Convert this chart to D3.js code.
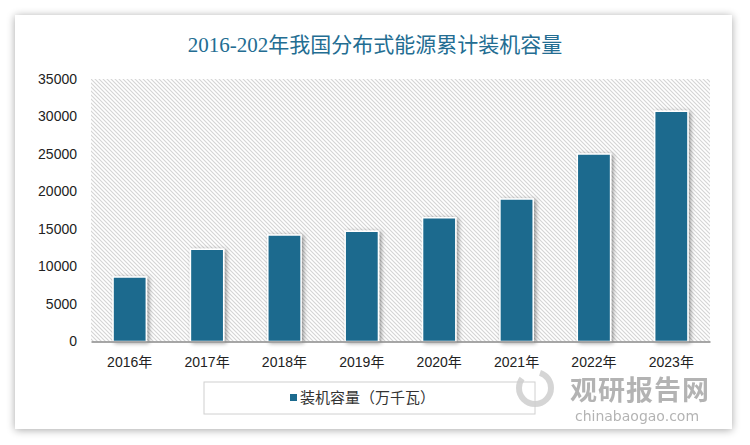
<!DOCTYPE html>
<html><head><meta charset="utf-8">
<script src="https://cdn.jsdelivr.net/npm/d3@7"></script>
<style>
html,body{margin:0;padding:0;background:#fff;}
svg{display:block;}
</style></head>
<body>
<script>
const title = "2016-202年我国分布式能源累计装机容量";
const categories = ["2016年","2017年","2018年","2019年","2020年","2021年","2022年","2023年"];
const values = [8600, 12300, 14200, 14700, 16500, 19000, 25000, 30700];
const yTicks = [0, 5000, 10000, 15000, 20000, 25000, 30000, 35000];
const seriesName = "装机容量（万千瓦）";

const W = 750, H = 445;
const svg = d3.select("body").append("svg").attr("width", W).attr("height", H);
const defs = svg.append("defs");

const sh = defs.append("filter").attr("id","cardShadow").attr("x","-5%").attr("y","-5%").attr("width","110%").attr("height","110%");
sh.append("feGaussianBlur").attr("in","SourceAlpha").attr("stdDeviation",4);
sh.append("feOffset").attr("dx",0).attr("dy",1).attr("result","b");
sh.append("feComponentTransfer").append("feFuncA").attr("type","linear").attr("slope",0.35);
const m1 = sh.append("feMerge"); m1.append("feMergeNode"); m1.append("feMergeNode").attr("in","SourceGraphic");

const bs = defs.append("filter").attr("id","barShadow").attr("x","-30%").attr("y","-10%").attr("width","160%").attr("height","120%");
bs.append("feGaussianBlur").attr("in","SourceAlpha").attr("stdDeviation",2);
bs.append("feOffset").attr("dx",2).attr("dy",1).attr("result","b");
bs.append("feComponentTransfer").append("feFuncA").attr("type","linear").attr("slope",0.4);
const m2 = bs.append("feMerge"); m2.append("feMergeNode"); m2.append("feMergeNode").attr("in","SourceGraphic");

const pat = defs.append("pattern").attr("id","hatch").attr("patternUnits","userSpaceOnUse")
  .attr("width",4).attr("height",4);
pat.append("rect").attr("width",4).attr("height",4).attr("fill","#fff");
pat.append("path").attr("d","M-1,-1 L5,5 M-1,3 L1,5 M3,-1 L5,1").attr("stroke","#d4d4d4").attr("stroke-width",1.1);

// card
svg.append("rect").attr("x",15).attr("y",15).attr("width",717).attr("height",414)
  .attr("fill","#fff").attr("filter","url(#cardShadow)");

svg.append("text").attr("x",375).attr("y",52).attr("text-anchor","middle")
  .attr("font-family","'Liberation Serif','Noto Sans CJK SC',serif").attr("font-size",21)
  .attr("fill","#236d92").text(title);

const pL = 91, pR = 710, pT = 79, pB = 341.5;
const x = d3.scaleBand().domain(categories).range([pL, pR]).paddingInner(0.57).paddingOuter(0.285);
const y = d3.scaleLinear().domain([0, 35000]).range([pB, pT]);

svg.append("rect").attr("x",pL).attr("y",pT).attr("width",pR-pL).attr("height",pB-pT)
  .attr("fill","url(#hatch)");

const ya = svg.append("g").attr("transform",`translate(${pL},0)`)
  .call(d3.axisLeft(y).tickValues(yTicks).tickSize(0).tickPadding(14).tickFormat(d3.format("d")));
ya.select(".domain").remove();
ya.selectAll("text").attr("font-family","'Liberation Sans','DejaVu Sans',sans-serif").attr("font-size",14).attr("fill","#222");

svg.append("g").selectAll("rect").data(values).join("rect")
  .attr("x",(d,i)=>x(categories[i])).attr("y",d=>y(d))
  .attr("width",x.bandwidth()).attr("height",d=>pB-y(d))
  .attr("fill","#1b6a8e").attr("stroke","#fff").attr("stroke-width",1.5)
  .attr("filter","url(#barShadow)");

const xa = svg.append("g").attr("transform",`translate(0,${pB})`)
  .call(d3.axisBottom(x).tickSize(0).tickPadding(16));
xa.select(".domain").attr("stroke","#8a8a8a").attr("stroke-width",1.5);
xa.selectAll("text").attr("font-family","'Liberation Sans','Noto Sans CJK SC',sans-serif").attr("font-size",14).attr("fill","#222");

// watermark
const wm = svg.append("g").attr("opacity",0.75);
wm.append("circle").attr("cx",535).attr("cy",388).attr("r",16).attr("fill","none").attr("stroke","#c8c8c8").attr("stroke-width",6).attr("stroke-dasharray","60 20");
wm.append("text").attr("x",640).attr("y",400).attr("text-anchor","middle")
  .attr("font-family","'Noto Sans CJK SC',sans-serif").attr("font-weight","bold").attr("font-size",27)
  .attr("fill","#9a9a9a").attr("letter-spacing",1).text("观研报告网");
wm.append("text").attr("x",637).attr("y",421).attr("text-anchor","middle")
  .attr("font-family","'DejaVu Sans',sans-serif").attr("font-size",14)
  .attr("fill","#9a9a9a").text("chinabaogao.com");

// legend
svg.append("rect").attr("x",204).attr("y",382).attr("width",331).attr("height",32)
  .attr("fill","none").attr("stroke","#d0d0d0").attr("stroke-width",1);
svg.append("rect").attr("x",290).attr("y",394).attr("width",7).attr("height",7).attr("fill","#1b6a8e");
svg.append("text").attr("x",300).attr("y",403)
  .attr("font-family","'Noto Sans CJK SC',sans-serif").attr("font-size",15).attr("fill","#333").text(seriesName);
</script>
</body></html>
